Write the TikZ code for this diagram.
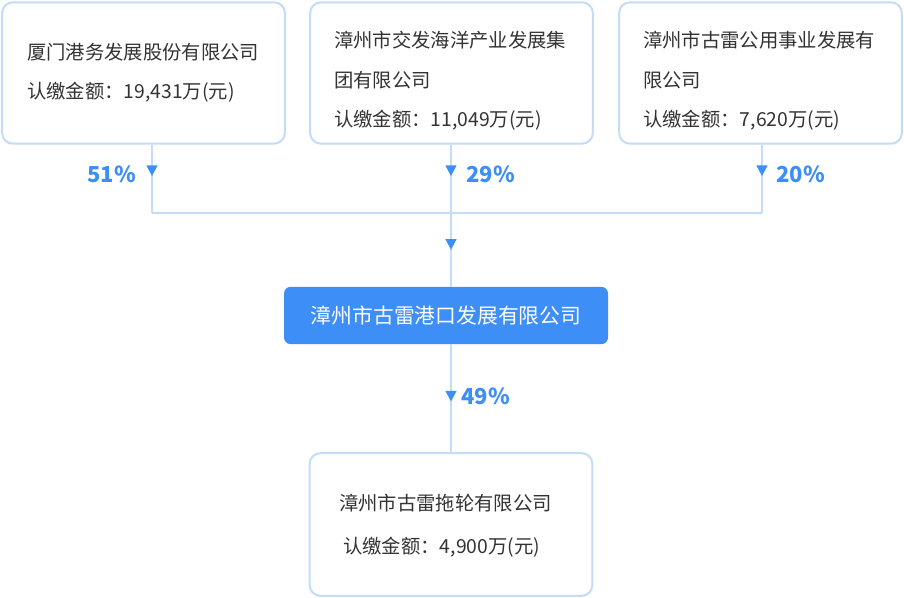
\documentclass[tikz,border=0pt]{standalone}
\usepackage{fontspec}
\setmainfont{Noto Sans CJK SC}
\usetikzlibrary{arrows.meta,decorations.markings}
\definecolor{edgeblue}{HTML}{C3DCF8}
\definecolor{mainblue}{HTML}{3D8EF7}
\definecolor{txtgray}{HTML}{333333}
\tikzset{
  box/.style={draw=edgeblue,line width=1.5pt,rounded corners=8pt,fill=white,inner sep=0pt},
  line/.style={draw=edgeblue,line width=1.5pt},
  tip/.style={postaction={decorate,decoration={markings,
    mark=at position #1 with {\arrow[mainblue]{Triangle[width=8pt,length=8pt]}}}}},
  txt/.style={anchor=west,text=txtgray,font=\fontsize{14.5}{16}\selectfont,inner sep=0pt},
  pct/.style={text=mainblue,font=\bfseries\fontsize{16.5}{18}\selectfont,inner sep=0pt}
}
\begin{document}
\begin{tikzpicture}[x=0.75pt,y=-0.75pt]
    \useasboundingbox (0,0) rectangle (904,598);
    % shareholders
    \node[box,minimum width=212pt,minimum height=106pt] (sh1) at (143.5,73) {};
    \node[box,minimum width=212pt,minimum height=106pt] (sh2) at (451.5,73) {};
    \node[box,minimum width=212pt,minimum height=106pt] (sh3) at (760.5,73) {};
    \node[txt] at (27,52) {厦门港务发展股份有限公司};
    \node[txt] at (27,92) {认缴金额：19,431万(元)};
    \node[txt] at (334,40) {漳州市交发海洋产业发展集};
    \node[txt] at (334,80) {团有限公司};
    \node[txt] at (334,120) {认缴金额：11,049万(元)};
    \node[txt] at (643,40) {漳州市古雷公用事业发展有};
    \node[txt] at (643,80) {限公司};
    \node[txt] at (643,120) {认缴金额：7,620万(元)};
    % company
    \node[draw=none,fill=mainblue,rounded corners=5pt,minimum width=243pt,minimum height=43pt,
      text=white,font=\fontsize{15.6}{18}\selectfont] (port) at (446,315.5) {漳州市古雷港口发展有限公司};
    % subsidiary
    \node[box,minimum width=212pt,minimum height=107pt] (tug) at (451,524.5) {};
    \node[txt] at (339,503) {漳州市古雷拖轮有限公司};
    \node[txt] at (343,547) {认缴金额：4,900万(元)};
    % connectors
    \coordinate (j1) at (152,213);
    \coordinate (j2) at (451,213);
    \coordinate (j3) at (762,213);
    \path[line,tip=0.46] (sh1.south -| j1) -- (j1);
    \path[line,tip=0.46] (sh2.south -| j2) -- (j2);
    \path[line,tip=0.46] (sh3.south -| j3) -- (j3);
    \path[line] (j1) -- (j3);
    \path[line,tip=0.5] (j2) -- (port.north -| j2);
    \path[line,tip=0.53] (port.south -| j2) -- (tug.north -| j2);
    % shares
    \node[pct,anchor=east] at (136,174) {51\%};
    \node[pct,anchor=west] at (466,174) {29\%};
    \node[pct,anchor=west] at (776,174) {20\%};
    \node[pct,anchor=west] at (461,396) {49\%};
\end{tikzpicture}
\end{document}
